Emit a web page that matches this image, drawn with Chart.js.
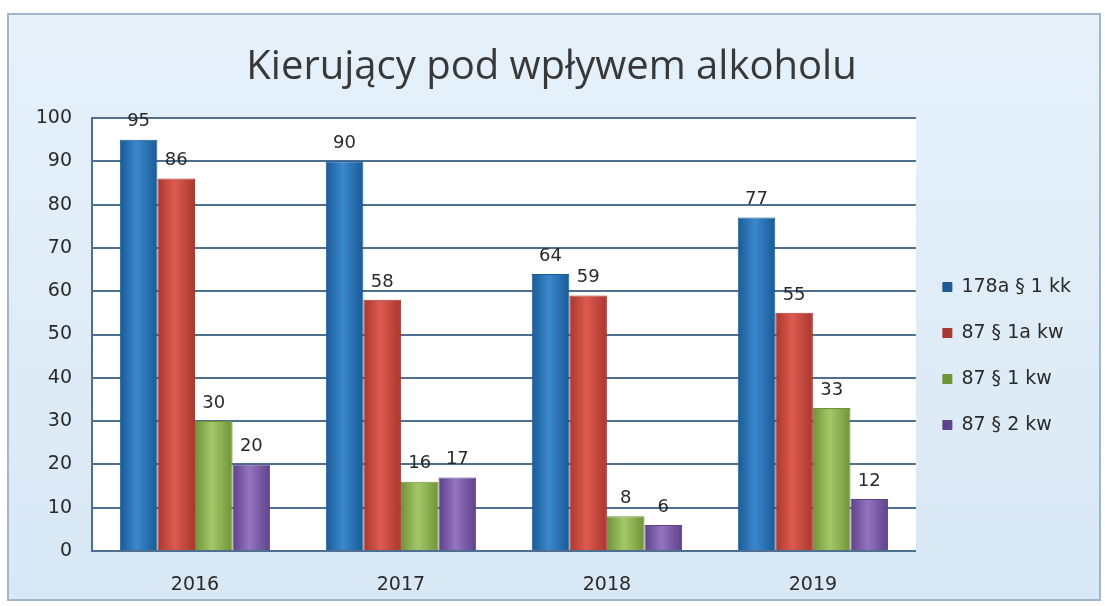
<!DOCTYPE html>
<html>
<head>
<meta charset="utf-8">
<script src="https://cdn.jsdelivr.net/npm/chart.js@4.4.1/dist/chart.umd.min.js"></script>
<style>
  html, body { margin: 0; padding: 0; background: #ffffff; }
  #wrap { width: 1105px; height: 606px; }
</style>
</head>
<body>
<div id="wrap"><canvas id="c" width="1105" height="606"></canvas></div>
<script>
// data
const years = ["2016", "2017", "2018", "2019"];
const art178a = [95, 90, 64, 77];
const art87_1a = [86, 58, 59, 55];
const art87_1 = [30, 16, 8, 33];
const art87_2 = [20, 17, 6, 12];
const seriesNames = ["178a § 1 kk", "87 § 1a kw", "87 § 1 kw", "87 § 2 kw"];
// edge / middle shades for the cylinder look
const seriesDark = ["#1a5a96", "#a8372f", "#6f9338", "#5e428a"];
const seriesLight = ["#3a88cc", "#de5a4e", "#a4c868", "#9474c0"];
const FONT = "'DejaVu Sans', sans-serif";

// light blue frame behind everything + white plot area
const framePlugin = {
  id: "frame",
  beforeDraw(chart) {
    const ctx = chart.ctx;
    const a = chart.chartArea;
    ctx.save();
    const g = ctx.createLinearGradient(0, 14, 0, 600);
    g.addColorStop(0, "#e6f1fa");
    g.addColorStop(1, "#d8e8f4");
    ctx.fillStyle = g;
    ctx.fillRect(8, 14, 1092, 586);
    ctx.strokeStyle = "#9fb6cc";
    ctx.lineWidth = 2;
    ctx.strokeRect(8, 14, 1092, 586);
    ctx.fillStyle = "#ffffff";
    ctx.fillRect(a.left, a.top, a.right - a.left, a.bottom - a.top);
    ctx.restore();
  }
};

// value labels above each bar
const valueLabels = {
  id: "valueLabels",
  afterDatasetsDraw(chart) {
    const ctx = chart.ctx;
    ctx.save();
    ctx.font = "18px " + FONT;
    ctx.fillStyle = "#2a2a2a";
    ctx.textAlign = "center";
    ctx.textBaseline = "bottom";
    chart.data.datasets.forEach((ds, i) => {
      chart.getDatasetMeta(i).data.forEach((bar, j) => {
        ctx.fillText(ds.data[j], bar.x, bar.y - 9);
      });
    });
    ctx.restore();
  }
};

function barFill(i) {
  return (context) => {
    const el = context.element;
    if (!el || el.x === undefined || !el.width) return seriesDark[i];
    const x0 = el.x - el.width / 2;
    const g = context.chart.ctx.createLinearGradient(x0, 0, x0 + el.width, 0);
    g.addColorStop(0, seriesDark[i]);
    g.addColorStop(0.45, seriesLight[i]);
    g.addColorStop(1, seriesDark[i]);
    return g;
  };
}

const datasets = [art178a, art87_1a, art87_1, art87_2].map((vals, i) => ({
  label: seriesNames[i],
  data: vals,
  backgroundColor: barFill(i),
  borderColor: seriesDark[i],
  borderWidth: 1,
  categoryPercentage: 0.73,
  barPercentage: 1.0
}));

const chart = new Chart(document.getElementById("c"), {
  type: "bar",
  data: { labels: years, datasets },
  options: {
    responsive: false,
    animation: false,
    layout: { padding: { left: 22, right: 24, top: 20, bottom: 0 } },
    scales: {
      x: {
        grid: { display: false, drawTicks: false },
        border: { display: true, color: "#4f6f90", width: 2 },
        ticks: { color: "#2a2a2a", font: { size: 19, family: FONT }, padding: 23 },
        afterFit(scale) { scale.height = 55; }
      },
      y: {
        min: 0,
        max: 100,
        ticks: { stepSize: 10, color: "#2a2a2a", font: { size: 19, family: FONT }, padding: 20 },
        grid: { color: "#4f6f90", lineWidth: 2, drawTicks: false },
        border: { display: true, color: "#4f6f90", width: 2 },
        afterFit(scale) { scale.width = 70; }
      }
    },
    plugins: {
      title: {
        display: true,
        text: "Kierujący pod wpływem alkoholu",
        color: "#383838",
        font: { size: 40, weight: "normal", family: "'Open Sans', sans-serif" },
        padding: { top: 24, bottom: 26 }
      },
      legend: {
        position: "right",
        title: { display: true, text: " ", font: { size: 10 }, padding: { top: 37, bottom: 37 } },
        labels: {
          color: "#2a2a2a",
          font: { size: 19, family: FONT },
          boxWidth: 9,
          boxHeight: 9,
          padding: 27
        }
      },
      tooltip: { enabled: false }
    }
  },
  plugins: [framePlugin, valueLabels]
});
// second pass so the bar gradients know where each bar sits
chart.update();
</script>
</body>
</html>
